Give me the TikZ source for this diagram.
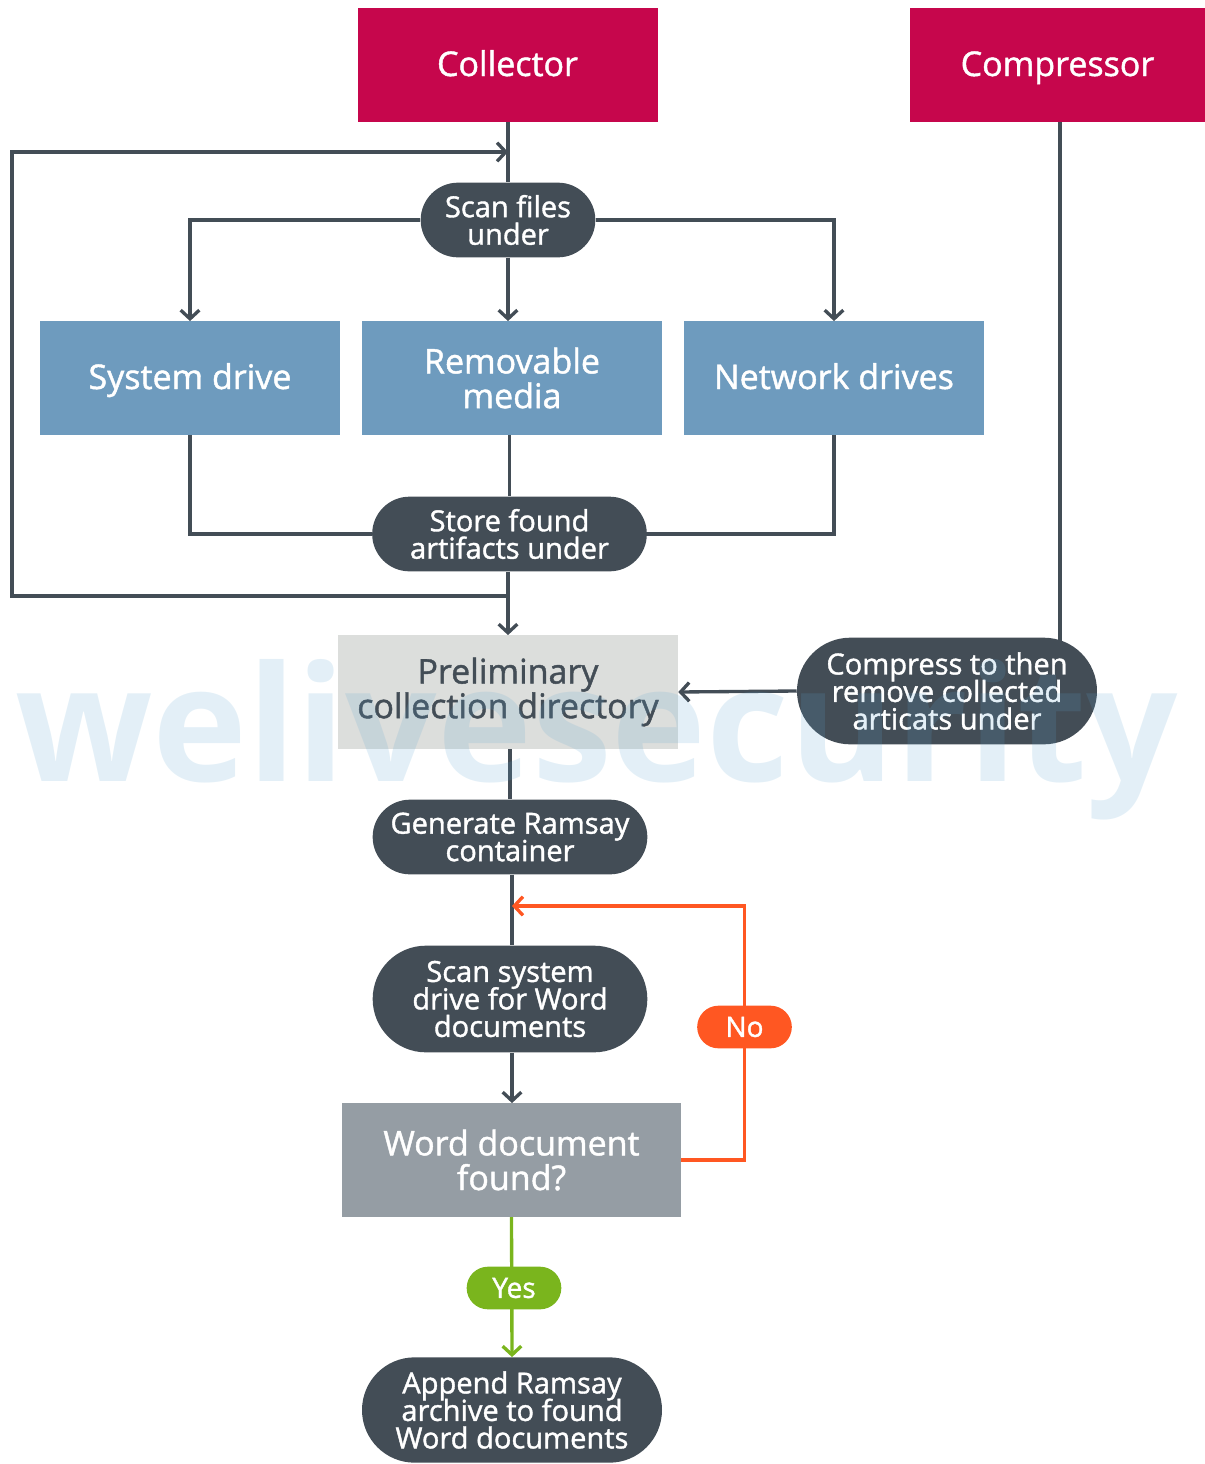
\documentclass[tikz,border=0pt]{standalone}
\usepackage{fontspec}
\setmainfont{Open Sans}[BoldFont={Open Sans},BoldFeatures={FakeBold=1.3}]
\newfontfamily\markfont{Open Sans Bold}
\usetikzlibrary{arrows.meta,shapes.misc,backgrounds}
\lineskiplimit=-20pt

\definecolor{headred}{RGB}{198,6,76}
\definecolor{driveblue}{RGB}{110,155,190}
\definecolor{slate}{RGB}{67,77,86}
\definecolor{prelimgray}{RGB}{220,222,220}
\definecolor{foundgray}{RGB}{149,157,164}
\definecolor{noorange}{RGB}{255,87,34}
\definecolor{yesgreen}{RGB}{122,181,29}
\definecolor{markblue}{RGB}{91,163,208}

\tikzset{
  box/.style={rectangle, inner sep=0pt, align=center, text=white,
    minimum width=225pt, minimum height=85pt,
    font=\bfseries\fontsize{25.5}{26}\selectfont},
  oneline/.style={text height=18pt, text depth=1.5pt},
  headbox/.style={box, oneline, fill=headred},
  drivebox/.style={box, fill=driveblue},
  pill/.style={rounded rectangle, inner sep=0pt, align=center, fill=slate, text=white,
    font=\bfseries\fontsize{21.8}{20.6}\selectfont},
  tag/.style={rounded rectangle, inner sep=0pt, text=white,
    minimum width=71pt, minimum height=32pt, font=\bfseries\fontsize{21}{21}\selectfont},
  flow/.style={draw=slate, line width=2.5pt},
  arrowed/.style={-{Straight Barb[length=6.5pt,width=14pt]}}
}

\begin{document}
\begin{tikzpicture}[x=0.75pt,y=0.75pt,yscale=-1,xscale=1]
        \useasboundingbox (0,0) rectangle (1205,1464);

        %Shape: Head boxes
        \node [headbox] (collector) at (507.5,65) {Collector};
        \node [headbox, minimum width=221pt] (compressor) at (1057.5,65) {Compressor};

        %Shape: Scan pill
        \node [pill, minimum width=131pt, minimum height=56pt] (scanfiles) at (508,220) {Scan files\\under};

        %Shape: Drive boxes
        \node [drivebox, oneline] (sysdrive) at (190,378) {System drive};
        \node [drivebox] (removable) at (512,378) {Removable\\media};
        \node [drivebox, oneline] (netdrive) at (834,378) {Network drives};

        %Shape: Store pill
        \node [pill, minimum width=206pt, minimum height=56pt] (storefound) at (509.5,534) {Store found\\artifacts under};

        %Shape: Preliminary directory
        \node [box, fill=prelimgray, text=slate, minimum width=255pt] (prelim) at (508,692) {Preliminary\\collection directory};

        %Shape: Compress pill
        \node [pill, minimum width=225pt, minimum height=80pt] (compress) at (947,691) {Compress to then\\remove collected\\articats under};

        %Shape: Ramsay pills
        \node [pill, minimum width=206pt, minimum height=56pt] (generate) at (510,837) {Generate Ramsay\\container};
        \node [pill, minimum width=206pt, minimum height=80pt] (scansys) at (510,999) {Scan system\\drive for Word\\documents};

        %Shape: Decision box
        \node [box, fill=foundgray, minimum width=254pt] (found) at (511.5,1160) {Word document\\found?};

        %Shape: Append pill
        \node [pill, minimum width=225pt, minimum height=79pt] (append) at (512,1410) {Append Ramsay\\archive to found\\Word documents};

        %Shape: Answer tags
        \node [tag, fill=noorange] (nolabel) at (744.5,1027) {No};
        \node [tag, fill=yesgreen] (yeslabel) at (514,1288) {Yes};

        %Straight Lines
        \coordinate (storejoin) at (508,596);
        \coordinate (loopbl) at (12,596);
        \coordinate (looptl) at (12,152);
        \coordinate (loopend) at (508,152);
        \coordinate (noend) at (512,906);

        \begin{scope}[on background layer]
        \draw [flow] (collector.south -| scanfiles.north) -- (scanfiles.north);
        \draw [flow, arrowed] (storejoin) -- (loopbl) -- (looptl) -- (loopend);
        \draw [flow, arrowed] (scanfiles.west) -| (sysdrive.north);
        \draw [flow, arrowed] (scanfiles.south) -- (scanfiles.south |- removable.north);
        \draw [flow, arrowed] (scanfiles.east) -| (netdrive.north);
        \draw [flow] (sysdrive.south) |- (storefound.west);
        \draw [flow] (netdrive.south) |- (storefound.east);
        \draw [flow] (storefound.north |- removable.south) -- (storefound.north);
        \draw [flow, arrowed] (storefound.south -| storejoin) -- (storejoin |- prelim.north);
        \draw [flow] (compressor.south -| 1060,0) -- (1060,660);
        \draw [flow, arrowed] (compress.west) -- (prelim.east);
        \draw [flow] (prelim.south -| generate.north) -- (generate.north);
        \draw [flow] (generate.south -| noend) -- (noend |- scansys.north);
        \draw [flow, arrowed] (scansys.south -| noend) -- (noend |- found.north);
        \draw [flow, draw=noorange, arrowed] (found.east) -| (nolabel.center) |- (noend);
        \draw [flow, draw=yesgreen, arrowed] (found.south) -- (append.north);
        \end{scope}

        % Text Node
        \node [anchor=base west, inner sep=0pt, text=markblue, opacity=0.17,
          font=\markfont\fontsize{120.5}{120.5}\selectfont] (mark) at (15,781) {welivesecurity};

    \end{tikzpicture}
\end{document}
